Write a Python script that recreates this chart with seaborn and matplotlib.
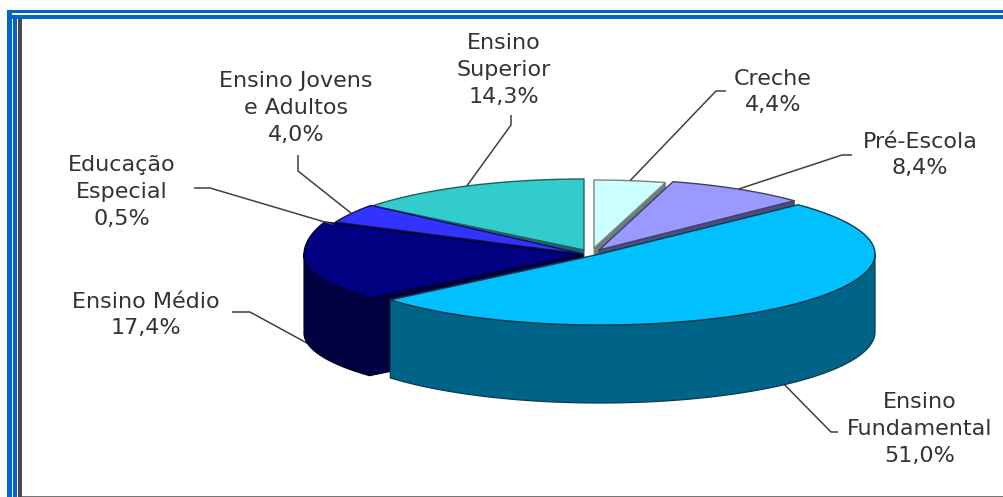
import numpy as np
import matplotlib
matplotlib.use("Agg")
import matplotlib.pyplot as plt
from matplotlib.patches import Rectangle
import seaborn as sns

# Distribution of enrolment by education level (percent)
labels = ["Creche\n4,4%", "Pré-Escola\n8,4%", "Ensino\nFundamental\n51,0%",
          "Ensino Médio\n17,4%", "Educação\nEspecial\n0,5%",
          "Ensino Jovens\ne Adultos\n4,0%", "Ensino\nSuperior\n14,3%"]
shares = [4.4, 8.4, 51.0, 17.4, 0.5, 4.0, 14.3]
top_colors = ["#CCFFFF", "#9999FF", "#00C0FF", "#000080", "#1010A0", "#3333FF", "#33CCCC"]
side_colors = ["#668080", "#4D4D80", "#006488", "#000040", "#000050", "#1A1A80", "#1A6666"]
edge_colors = ["#808080", "#404060", "#0A3A50", "#000030", "#000030", "#101060", "#206060"]

# Projected ellipse of each exploded slice; the rear half is foreshortened differently
centres_x = [594, 599, 600, 581, 583, 583, 584]
centres_y = [248, 250, 254, 255, 256, 254, 250]
radii_x = [262, 271, 275, 277, 272, 271, 270]
radii_y_back = [68, 71, 71, 87, 80, 78, 71]
radii_y_front = [68, 71, 71, 66, 80, 78, 71]
DEPTH = 78

# Leader routing and label placement per slice
label_xy = [(773, 92), (920, 155), (920, 429), (146, 315), (122, 192), (296, 108), (504, 70)]
leader_elbows = [[(716, 91), (726, 91)], [(842, 155), (852, 155)], [(831, 432), (838, 432)],
                 [(250, 312), (232, 312)], [(210, 188), (194, 188)],
                 [(298, 171), (298, 155)], [(511, 125), (511, 115)]]
leader_on_side = [False, False, True, True, False, False, False]
# Painter's order: rear slices first, the large front slice last
draw_order = [6, 5, 4, 0, 1, 3, 2]

sns.set_theme(style="white")
plt.rcParams["font.family"] = ["DejaVu Sans"]

fig, ax = plt.subplots(figsize=(10.04, 4.97), dpi=100)
ax.set_position([0, 0, 1, 1])
ax.set_xlim(0, 1004)
ax.set_ylim(497, 0)
ax.axis("off")

# Page frame: double blue rule with a grey inner rule
blue = "#0066CC"
grey = "#4A4A4A"
for x0, y0, w, h, c in [(7, 10, 997, 3.4, blue), (7, 15, 997, 4, blue),
                        (7, 10, 5, 487, blue), (13, 15, 4.5, 482, blue),
                        (18, 19, 4, 478, grey), (22, 495.5, 982, 1.5, "#777777")]:
    ax.add_patch(Rectangle((x0, y0), w, h, fc=c, ec="none", zorder=1))

edges = np.concatenate([[0], np.cumsum(shares)]) / np.sum(shares) * 2 * np.pi


def rim(i, theta):
    """Point on the top rim of slice i at clockwise angle theta from twelve o'clock."""
    c = np.cos(theta)
    ry = np.where(c > 0, radii_y_back[i], radii_y_front[i])
    return (centres_x[i] + radii_x[i] * np.sin(theta), centres_y[i] - ry * c)


z = 2
for i in draw_order:
    a0, a1 = edges[i], edges[i + 1]
    cx, cy = centres_x[i], centres_y[i]
    t = np.linspace(a0, a1, 160)
    rx, ry = rim(i, t)

    # Outer wall: only the part of the arc that faces the viewer
    front = np.cos(t) <= 0.02
    if front.any():
        fx, fy = rx[front], ry[front]
        ax.fill(np.r_[fx, fx[::-1]], np.r_[fy, fy[::-1] + DEPTH],
                fc=side_colors[i], ec=edge_colors[i], lw=0.9, zorder=z, joinstyle="round")

    # Radial walls exposed by the explosion, only those turned towards the viewer
    for a, visible in ((a0, np.sin(a0) < 0), (a1, np.sin(a1) > 0)):
        if visible:
            px, py = rim(i, a)
            ax.fill([cx, px, px, cx], [cy, py, py + DEPTH, cy + DEPTH],
                    fc=side_colors[i], ec=edge_colors[i], lw=0.7, zorder=z)

    # Top face
    ax.fill(np.r_[cx, rx], np.r_[cy, ry], fc=top_colors[i], ec=edge_colors[i],
            lw=1.0, zorder=z + 0.5, joinstyle="round")
    z += 1

# Leaders run from the slice's mid-angle on the rim out to their label
for i, elbow in enumerate(leader_elbows):
    mid = (edges[i] + edges[i + 1]) / 2
    sx, sy = rim(i, mid)
    if leader_on_side[i]:
        sy = sy + DEPTH
    xs = [sx] + [p[0] for p in elbow]
    ys = [sy] + [p[1] for p in elbow]
    ax.plot(xs, ys, color="#404040", lw=1.1, zorder=1.5 if leader_on_side[i] else 20,
            solid_capstyle="butt")

for text, (x, y) in zip(labels, label_xy):
    ax.text(x, y, text, ha="center", va="center", fontsize=16, color="#333333",
            linespacing=1.42, zorder=30)

fig.savefig("out.png", dpi=100)
